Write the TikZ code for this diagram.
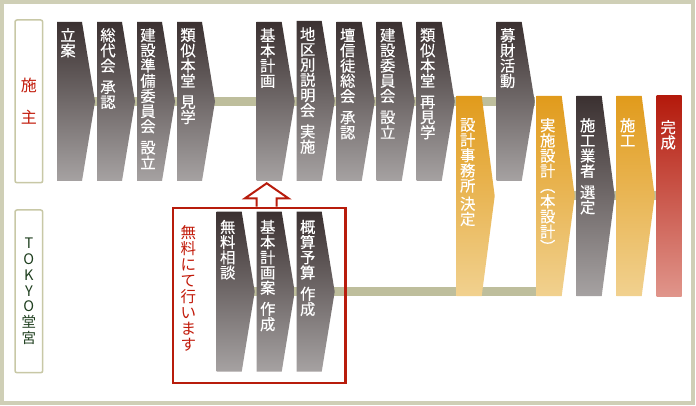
\documentclass[tikz,border=0pt]{standalone}
\usepackage{fontspec}
\setmainfont{Noto Sans CJK JP}
\newfontfamily\stepfont{Noto Sans CJK JP}[FakeBold=0.4]
\usetikzlibrary{backgrounds}
\definecolor{darktop}{HTML}{3B3131}
\definecolor{darkbottom}{HTML}{A6A2A2}
\definecolor{orangetop}{HTML}{E19B1C}
\definecolor{orangebottom}{HTML}{F1D18F}
\definecolor{redtop}{HTML}{B41A0C}
\definecolor{redbottom}{HTML}{E0958B}
\definecolor{bandolive}{HTML}{BEBE9C}
\definecolor{frameolive}{HTML}{CFCFB6}
\definecolor{boxolive}{HTML}{C8C8A6}
\definecolor{ownerred}{HTML}{C21A0A}
\definecolor{freered}{HTML}{B81C0C}
\definecolor{dogugreen}{HTML}{1F3F1F}
\tikzset
{
    darkstep/.style   = {top color=darktop, bottom color=darkbottom},
    orangestep/.style = {top color=orangetop, bottom color=orangebottom},
    redstep/.style    = {top color=redtop, bottom color=redbottom},
    steptext/.style   = {text=white, align=center, inner sep=0, font=\stepfont\fontsize{15.3}{15.2}\selectfont},
    band/.style       = {draw=bandolive, line width=9pt},
    sidebox/.style    = {draw=boxolive, line width=1.5pt, rounded corners=2pt, fill=white, align=center, inner sep=0, minimum width=27.7pt, minimum height=162.7pt},
    uparrow/.style    = {draw=freered, line width=2pt, fill=white, line join=miter}
}
% chevron: name, left x, top y, bottom y, colours, text offset, text
\newcommand\flowstep[7]{
	\path[#5] (#2,#3) -- ++(25,0) -- ({#2+38},{(#3+#4)/2}) -- ({#2+25},#4) -- (#2,#4) -- cycle;
	\coordinate (#1-w) at (#2,{(#3+#4)/2});
	\coordinate (#1-e) at ({#2+38},{(#3+#4)/2});
	\node[steptext, anchor=north] (#1) at ({#2+11},{#3+#6}) {#7};
}

\begin{document}
\begin{tikzpicture}[x=1pt, y=-1pt]
		\useasboundingbox (0,0) rectangle (696,406);
		\draw[frameolive, line width=4pt] (2,2) rectangle (693,403);
		% owner row
		\node[sidebox, text=ownerred, font=\fontsize{16}{16}\selectfont] (sesyu) at (28.85,101.35) {施\\[16pt]主};
		\flowstep{ritsuan}{57}{22}{181}{darkstep}{6}{立\\案}
		\flowstep{soudai}{97}{22}{181}{darkstep}{6}{総\\代\\会\\[6pt]承\\認}
		\flowstep{junbi}{137}{22}{181}{darkstep}{6}{建\\設\\準\\備\\委\\員\\会\\[6pt]設\\立}
		\flowstep{kengaku}{177}{22}{181}{darkstep}{6}{類\\似\\本\\堂\\[6pt]見\\学}
		\flowstep{kihon}{256.7}{22}{181}{darkstep}{6}{基\\本\\計\\画}
		\flowstep{setsumei}{296.7}{21}{181}{darkstep}{6}{地\\区\\別\\説\\明\\会\\[6pt]実\\施}
		\flowstep{sokai}{336.7}{22}{181}{darkstep}{6}{壇\\信\\徒\\総\\会\\[6pt]承\\認}
		\flowstep{iinkai}{376.7}{22}{181}{darkstep}{6}{建\\設\\委\\員\\会\\[6pt]設\\立}
		\flowstep{saikengaku}{416.7}{22}{181}{darkstep}{6}{類\\似\\本\\堂\\[6pt]再\\見\\学}
		\flowstep{boshu}{496.7}{22}{181}{darkstep}{6}{募\\財\\活\\動}
		% both rows
		\flowstep{jimusho}{456.7}{96}{296}{orangestep}{22}{設\\計\\事\\務\\所\\[3pt]決\\定}
		\flowstep{jisshi}{536.7}{96}{296}{orangestep}{22}{実\\施\\設\\計\\︵\\本\\設\\計\\︶}
		\flowstep{gyosha}{576.7}{96}{296}{darkstep}{22}{施\\工\\業\\者\\[6pt]選\\定}
		\flowstep{sekou}{616.7}{96}{296}{orangestep}{22}{施\\工}
		\path[redstep] (656.7,96) rectangle (681.7,296);
		\coordinate (kansei-w) at (656.7,196);
		\node[steptext, anchor=north] (kansei) at (668.2,120) {完\\成};
		% TOKYO row
		\node[sidebox, text=dogugreen, font=\fontsize{14.5}{15.8}\selectfont] (tokyo) at (28.85,291.35) {T\\O\\K\\Y\\O\\堂\\宮};
		\node[draw=freered, line width=2.5pt, minimum width=172.3pt, minimum height=175pt, inner sep=0, anchor=north west] (freebox) at (171.7,206.7) {};
		\node[text=ownerred, align=center, inner sep=0, font=\fontsize{15.5}{16}\selectfont, anchor=north] (muryou) at (188.3,225) {無\\料\\に\\て\\行\\い\\ま\\す};
		\flowstep{soudan}{216.7}{211.7}{371.7}{darkstep}{8}{無\\料\\相\\談}
		\flowstep{kihonan}{256.7}{211.7}{371.7}{darkstep}{8}{基\\本\\計\\画\\案\\[6pt]作\\成}
		\flowstep{gaisan}{296.7}{211.7}{371.7}{darkstep}{8}{概\\算\\予\\算\\[6pt]作\\成}
		\coordinate (up) at (kihon |- freebox.north);
		\draw[uparrow] (up) ++(-11,0) -- ++(0,-8.4) -- ++(-11.7,0) -- ++(21.7,-15) -- ++(21.7,15) -- ++(-11.7,0) -- ++(0,8.4);
		% lines behind
		\begin{scope}[on background layer]
			\fill[white] (0,0) rectangle (696,406);
			\draw[band] (ritsuan-w) -- (boshu-e);
			\draw[band] (soudan-w) -- (gaisan-e) -- (gaisan-e -| jisshi-w);
			\draw[band] (jisshi-w) -- (kansei-w);
		\end{scope}
		\end{tikzpicture}
\end{document}
